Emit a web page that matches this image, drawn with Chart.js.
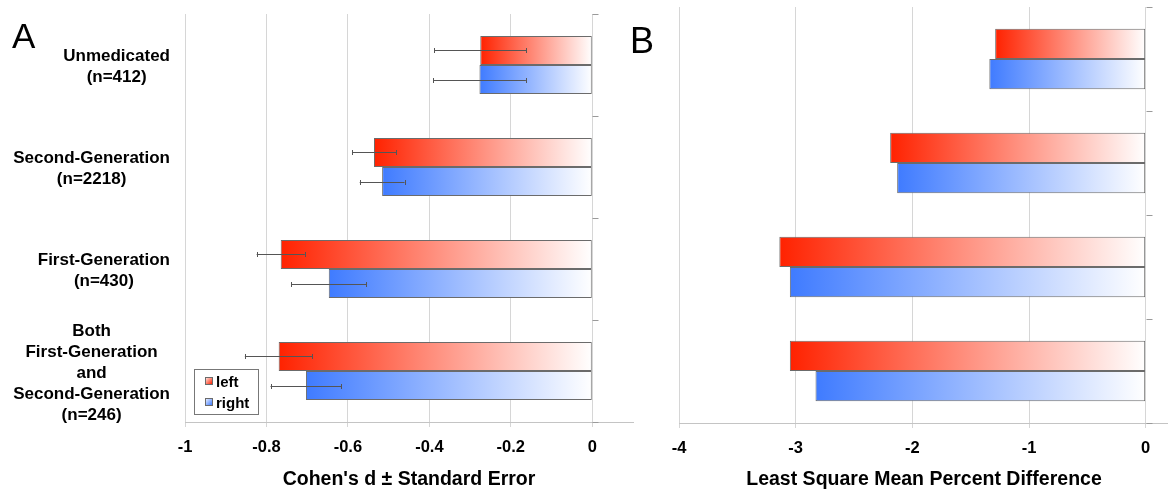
<!DOCTYPE html>
<html>
<head>
<meta charset="utf-8">
<script src="https://cdn.jsdelivr.net/npm/chart.js@4.4.1/dist/chart.umd.min.js"></script>
<style>
  html, body { margin: 0; padding: 0; background: #fff; overflow: hidden; }
  body { width: 1168px; height: 492px; position: relative; }
  #wrapA { position: absolute; left: 0; top: 0; width: 640px; height: 492px; }
  #wrapB { position: absolute; left: 620px; top: 0; width: 550px; height: 492px; }
  .panel { position: absolute; font-family: "Liberation Sans", Arial, sans-serif; line-height: 1; color: #000; }
</style>
</head>
<body>
<div id="wrapA"><canvas id="chartA" width="640" height="492"></canvas></div>
<div id="wrapB"><canvas id="chartB" width="550" height="492"></canvas></div>
<div class="panel" style="left:12px; top:18px; font-size:35px;">A</div>
<div class="panel" style="left:630px; top:23px; font-size:36px;">B</div>

<script>
// categories (top to bottom)
const categories = [
    ['Unmedicated', '(n=412)'],
    ['Second-Generation', '(n=2218)'],
    ['First-Generation', '(n=430)'],
    ['Both', 'First-Generation', 'and', 'Second-Generation', '(n=246)']
];
const seriesNames = ['left', 'right'];

// panel A: Cohen's d and standard error
const cohenLeft = [-0.275, -0.536, -0.765, -0.770];
const cohenRight = [-0.277, -0.516, -0.647, -0.703];
const cohenLeftErr = [0.113, 0.054, 0.059, 0.083];
const cohenRightErr = [0.114, 0.055, 0.092, 0.087];
const cohenTicks = [-1, -0.8, -0.6, -0.4, -0.2, 0];

// panel B: least square mean percent difference
const lsmLeft = [-1.29, -2.19, -3.14, -3.05];
const lsmRight = [-1.34, -2.13, -3.05, -2.83];
const lsmTicks = [-4, -3, -2, -1, 0];

const RED = '#ff2200';
const BLUE = '#3f7bff';
const EDGE = '#6b6b6b';
const GRID = '#d6d6d6';
const AXIS = '#c4c4c4';
const FONT = "'Liberation Sans', Arial, sans-serif";

// bar fades from full colour at its end to white at zero
function fade(color) {
    return function(ctx) {
        const chart = ctx.chart;
        const xs = chart.scales.x;
        if (ctx.type !== 'data' || !xs || !chart.chartArea) return color;
        const x0 = xs.getPixelForValue(ctx.raw);
        const x1 = xs.getPixelForValue(0);
        if (!isFinite(x0) || x1 - x0 < 1) return color;
        const g = chart.ctx.createLinearGradient(x0, 0, x1, 0);
        g.addColorStop(0, color);
        g.addColorStop(1, '#ffffff');
        return g;
    };
}

// error bars, little ticks on the zero line, category labels, legend box
const extras = {
    id: 'extras',
    afterDatasetsDraw(chart, args, opts) {
        const ctx = chart.ctx;
        const xs = chart.scales.x, ys = chart.scales.y;
        const zero = Math.round(xs.getPixelForValue(0)) + 0.5;
        ctx.save();
        ctx.strokeStyle = '#9a9a9a';
        ctx.lineWidth = 1;
        for (let i = 0; i <= chart.data.labels.length; i++) {
            const y = Math.round(ys.getPixelForValue(i - 0.5)) + 0.5;
            ctx.beginPath();
            ctx.moveTo(zero, y);
            ctx.lineTo(zero + 6, y);
            ctx.stroke();
        }
        if (opts.errors) {
            ctx.strokeStyle = '#555';
            opts.errors.forEach((errs, di) => {
                const meta = chart.getDatasetMeta(di);
                const vals = chart.data.datasets[di].data;
                meta.data.forEach((bar, j) => {
                    const y = Math.round(bar.y) + 0.5;
                    const xa = xs.getPixelForValue(vals[j] - errs[j]);
                    const xb = xs.getPixelForValue(vals[j] + errs[j]);
                    ctx.beginPath();
                    ctx.moveTo(xa, y); ctx.lineTo(xb, y);
                    ctx.moveTo(Math.round(xa) + 0.5, y - 2.5); ctx.lineTo(Math.round(xa) + 0.5, y + 2.5);
                    ctx.moveTo(Math.round(xb) + 0.5, y - 2.5); ctx.lineTo(Math.round(xb) + 0.5, y + 2.5);
                    ctx.stroke();
                });
            });
        }
        ctx.restore();
    },
    afterDraw(chart, args, opts) {
        const ctx = chart.ctx;
        const ca = chart.chartArea;
        const ys = chart.scales.y;
        ctx.save();
        if (opts.labels) {
            ctx.font = 'bold 17px ' + FONT;
            ctx.fillStyle = '#000';
            ctx.textAlign = 'center';
            ctx.textBaseline = 'middle';
            const right = ca.left - 15;
            const lh = 21;
            chart.data.labels.forEach((lines, i) => {
                const w = Math.max(...lines.map(t => ctx.measureText(t).width));
                const cx = right - w / 2;
                const cy = ys.getPixelForValue(i) + 2;
                lines.forEach((t, k) => {
                    ctx.fillText(t, cx, cy + (k - (lines.length - 1) / 2) * lh);
                });
            });
        }
        if (opts.legend) {
            const bx = ca.left + 9, by = ca.bottom - 53;
            ctx.fillStyle = '#fff';
            ctx.fillRect(bx, by, 64, 45);
            ctx.strokeStyle = '#777';
            ctx.lineWidth = 1;
            ctx.strokeRect(bx + 0.5, by + 0.5, 64, 45);
            ctx.font = 'bold 15px ' + FONT;
            ctx.textAlign = 'left';
            ctx.textBaseline = 'middle';
            chart.data.datasets.forEach((ds, k) => {
                const sy = by + 8 + k * 21;
                const g = ctx.createLinearGradient(bx + 11, sy, bx + 18, sy + 7);
                g.addColorStop(0, '#ffffff');
                g.addColorStop(1, k === 0 ? RED : BLUE);
                ctx.fillStyle = g;
                ctx.fillRect(bx + 11, sy, 7, 7);
                ctx.strokeStyle = EDGE;
                ctx.strokeRect(bx + 11.5, sy + 0.5, 7, 7);
                ctx.fillStyle = '#000';
                ctx.fillText(ds.label, bx + 22, by + 14 + k * 21);
            });
        }
        ctx.restore();
    }
};

function makeChart(id, cfg) {
    return new Chart(document.getElementById(id), {
        type: 'bar',
        data: {
            labels: categories,
            datasets: [
                { label: seriesNames[0], data: cfg.left, backgroundColor: fade(RED), borderColor: EDGE, borderWidth: 1, borderSkipped: false },
                { label: seriesNames[1], data: cfg.right, backgroundColor: fade(BLUE), borderColor: EDGE, borderWidth: 1, borderSkipped: false }
            ]
        },
        options: {
            indexAxis: 'y',
            responsive: false,
            animation: false,
            layout: { padding: cfg.padding },
            datasets: { bar: { categoryPercentage: cfg.catPct, barPercentage: 1 } },
            plugins: {
                legend: { display: false },
                tooltip: { enabled: false },
                extras: cfg.extras
            },
            scales: {
                x: {
                    min: cfg.min,
                    max: cfg.max,
                    afterBuildTicks: s => { s.ticks = cfg.ticks.map(v => ({ value: v })); },
                    afterFit: s => { s.height = cfg.bottomH; },
                    grid: { color: GRID, tickLength: 5 },
                    border: { color: AXIS },
                    ticks: {
                        color: '#000',
                        padding: 11,
                        font: { family: FONT, size: 16.5, weight: 'bold' },
                        callback: v => String(Math.round(v * 10) / 10)
                    },
                    title: {
                        display: true,
                        text: cfg.title,
                        color: '#000',
                        font: { family: FONT, size: 19.5, weight: 'bold' },
                        padding: { top: 2, bottom: 1 }
                    }
                },
                y: {
                    ticks: { display: false },
                    grid: { display: false },
                    border: { display: false },
                    afterFit: s => { s.width = cfg.leftW; }
                }
            }
        },
        plugins: [extras]
    });
}

makeChart('chartA', {
    left: cohenLeft, right: cohenRight,
    min: -1, max: 0.1, ticks: cohenTicks,
    title: "Cohen's d \u00b1 Standard Error",
    padding: { top: 14, right: 7, left: 0, bottom: 0 },
    leftW: 185, bottomH: 70, catPct: 0.57,
    extras: { errors: [cohenLeftErr, cohenRightErr], labels: true, legend: true }
});

makeChart('chartB', {
    left: lsmLeft, right: lsmRight,
    min: -4, max: 0.2, ticks: lsmTicks,
    title: 'Least Square Mean Percent Difference',
    padding: { top: 7, right: 1, left: 0, bottom: 0 },
    leftW: 59, bottomH: 69, catPct: 0.58,
    extras: {}
});
</script>
</body>
</html>
